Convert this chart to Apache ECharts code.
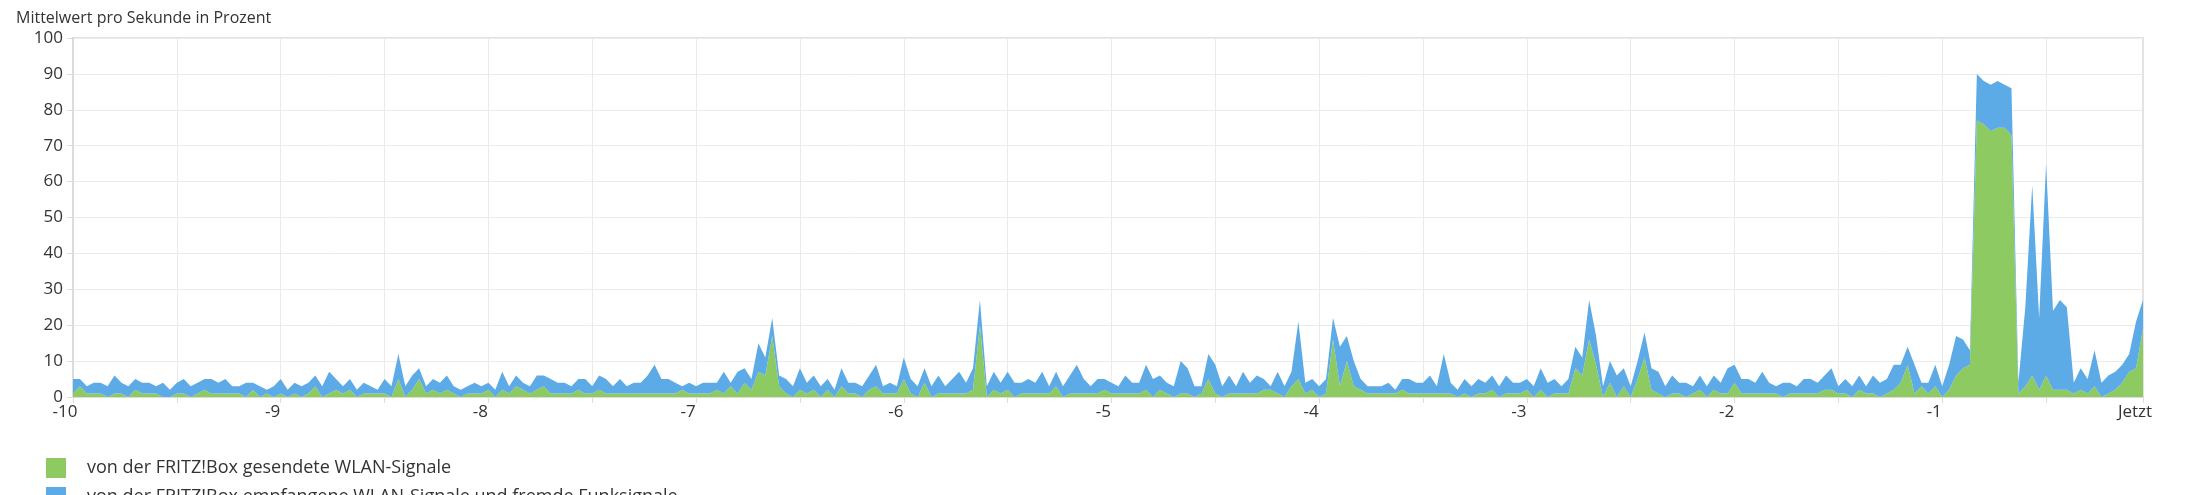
<!DOCTYPE html>
<html>
<head>
<meta charset="utf-8">
<script src="https://cdn.jsdelivr.net/npm/echarts@6/dist/echarts.min.js"></script>
<style>
  html, body { margin: 0; padding: 0; background: #fff; }
  #chart { width: 2192px; height: 495px; }
</style>
</head>
<body>
<div id="chart"></div>
<script>
// ---- chart data ----
const titleText = 'Mittelwert pro Sekunde in Prozent';
const seriesNames = [
  'von der FRITZ!Box gesendete WLAN-Signale',
  'von der FRITZ!Box empfangene WLAN-Signale und fremde Funksignale'
];
// x axis: minutes before now; one sample every 2 seconds
const startMinute = -10;
const samplesPerMinute = 30;
const xTickLabels = { '-10': '-10', '-9': '-9', '-8': '-8', '-7': '-7', '-6': '-6', '-5': '-5', '-4': '-4', '-3': '-3', '-2': '-2', '-1': '-1', '0': 'Jetzt' };
const yTicks = [0, 10, 20, 30, 40, 50, 60, 70, 80, 90, 100];

// green: sent WLAN signals (%)
const sent = [
  1,3,1,1,1,0,1,1,0,2, 1,1,1,0,0,1,1,0,1,2, 1,1,1,1,1,0,2,0,1,0,
  1,0,1,0,1,3,0,1,2,1, 2,0,1,1,1,1,0,5,0,2, 5,1,2,1,2,1,0,1,1,1,
  2,0,2,1,3,2,1,2,3,1, 1,1,1,2,1,1,2,1,1,1, 1,1,1,1,1,1,1,1,2,1,
  1,1,1,2,1,3,1,4,2,7, 6,17,3,1,0,2,1,2,0,2, 0,3,1,1,0,2,3,1,1,1,
  5,1,0,4,0,1,1,1,1,1, 2,20,0,2,1,2,0,1,1,1, 1,1,3,0,1,1,1,1,1,2,
  1,1,1,1,1,2,0,2,1,0, 1,1,0,1,5,1,0,1,1,1, 1,1,2,2,1,0,3,5,1,2,
  0,1,16,3,10,3,2,1,1,1, 1,1,2,1,1,1,1,1,1,1, 0,1,0,1,1,2,0,1,1,1,
  2,0,2,0,1,1,1,8,6,16, 9,0,4,0,3,0,5,11,2,1, 0,1,1,0,1,2,0,2,1,1,
  4,1,1,1,1,1,1,0,1,1, 1,1,1,2,2,1,1,0,2,1, 1,0,1,2,4,9,1,3,1,3,
  0,2,6,8,9,77,76,74,75,75, 73,1,3,6,2,6,2,2,2,1, 2,1,3,0,1,2,4,7,8,19
];
// blue: received WLAN signals and foreign radio signals (%), stacked on top of green
const received = [
  4,2,2,3,3,3,5,3,3,3, 3,3,2,4,2,3,4,3,3,3, 4,3,4,2,2,4,2,3,1,3,
  4,2,3,3,3,3,3,6,3,2, 3,2,3,2,1,4,3,7,3,4, 3,2,3,3,4,2,2,2,3,2,
  2,2,5,2,3,2,2,4,3,4, 3,3,2,3,4,2,4,4,2,4, 2,3,3,5,8,4,4,3,1,3,
  2,3,3,2,6,1,6,4,3,8, 5,5,3,4,3,6,3,4,3,3, 2,5,3,3,3,4,6,2,3,2,
  6,4,3,4,3,5,2,4,6,3, 6,7,3,5,3,5,4,3,4,3, 6,2,4,3,5,8,4,2,4,3,
  3,2,5,3,3,7,5,4,3,3, 9,7,3,2,7,8,3,5,2,6, 3,5,3,1,6,3,4,16,3,3,
  3,4,6,11,7,7,3,2,2,2, 3,1,3,4,3,3,5,2,11,3, 2,4,3,4,3,4,3,5,3,3,
  3,3,6,4,4,2,4,6,5,11, 8,3,6,6,5,3,5,7,6,6, 3,5,3,4,2,4,3,4,3,7,
  5,4,4,3,6,3,2,4,3,2, 4,4,3,4,6,2,4,3,4,2, 5,4,4,7,5,5,8,1,3,6,
  3,7,11,8,4,13,12,13,13,12, 13,3,22,53,20,59,22,25,23,3, 6,4,10,4,5,5,5,5,13,8
];

// ---- build the chart ----
const categories = sent.map((_, i) => i);
const lastIndex = categories.length - 1;
const greenColor = '#8dca62';
const blueColor = '#5caae6';
const textColor = '#333333';
const gridLineColor = '#ebebeb';
const axisColor = '#dcdcdc';
const fontFamily = '"Open Sans", Lato, sans-serif';

function minuteLabel(index) {
  if (index === lastIndex) return xTickLabels['0'];
  if (index % samplesPerMinute !== 0) return '';
  const minute = startMinute + index / samplesPerMinute;
  return xTickLabels[String(minute)] || '';
}

const chart = echarts.init(document.getElementById('chart'), null, { renderer: 'canvas' });
chart.setOption({
  animation: false,
  backgroundColor: '#ffffff',
  title: {
    text: titleText,
    left: 11,
    top: 5,
    textStyle: { color: textColor, fontSize: 16, fontWeight: 'normal', fontFamily: fontFamily }
  },
  legend: [0, 1].map(k => ({
    orient: 'vertical',
    left: 46,
    top: 458 + k * 29,
    padding: 0,
    itemWidth: 20,
    itemHeight: 20,
    icon: 'rect',
    selectedMode: false,
    data: [seriesNames[k]],
    textStyle: { color: textColor, fontSize: 18, fontFamily: fontFamily, padding: [0, 0, 0, 16] }
  })),
  grid: {
    left: 73,
    right: 2192 - 2143,
    top: 38,
    bottom: 495 - 397,
    show: true,
    borderColor: '#e3e3e3',
    borderWidth: 2,
    containLabel: false
  },
  xAxis: {
    type: 'category',
    data: categories,
    boundaryGap: false,
    axisLine: { show: true, lineStyle: { color: axisColor, width: 2 } },
    axisTick: {
      show: true,
      length: 6,
      interval: (i) => i % (samplesPerMinute / 2) === 0 || i === lastIndex,
      lineStyle: { color: axisColor }
    },
    splitLine: {
      show: true,
      interval: (i) => i % (samplesPerMinute / 2) === 0,
      lineStyle: { color: gridLineColor, width: 1 }
    },
    axisLabel: {
      show: true,
      margin: 7,
      color: textColor,
      fontSize: 17,
      fontFamily: fontFamily,
      padding: [0, 16, 0, 0],
      interval: (i) => i % samplesPerMinute === 0 || i === lastIndex,
      formatter: (value) => minuteLabel(Number(value))
    }
  },
  yAxis: {
    type: 'value',
    min: yTicks[0],
    max: yTicks[yTicks.length - 1],
    interval: yTicks[1] - yTicks[0],
    axisLine: { show: true, lineStyle: { color: axisColor, width: 2 } },
    axisTick: { show: true, length: 6, lineStyle: { color: axisColor } },
    splitLine: { show: true, lineStyle: { color: gridLineColor, width: 1 } },
    axisLabel: { margin: 10, color: textColor, fontSize: 17, fontFamily: fontFamily }
  },
  series: [
    {
      name: seriesNames[0],
      type: 'line',
      stack: 'total',
      symbol: 'none',
      smooth: false,
      lineStyle: { width: 0 },
      itemStyle: { color: greenColor },
      areaStyle: { color: greenColor, opacity: 1 },
      data: sent
    },
    {
      name: seriesNames[1],
      type: 'line',
      stack: 'total',
      symbol: 'none',
      smooth: false,
      lineStyle: { width: 0 },
      itemStyle: { color: blueColor },
      areaStyle: { color: blueColor, opacity: 1 },
      data: received
    }
  ]
});
</script>
</body>
</html>
